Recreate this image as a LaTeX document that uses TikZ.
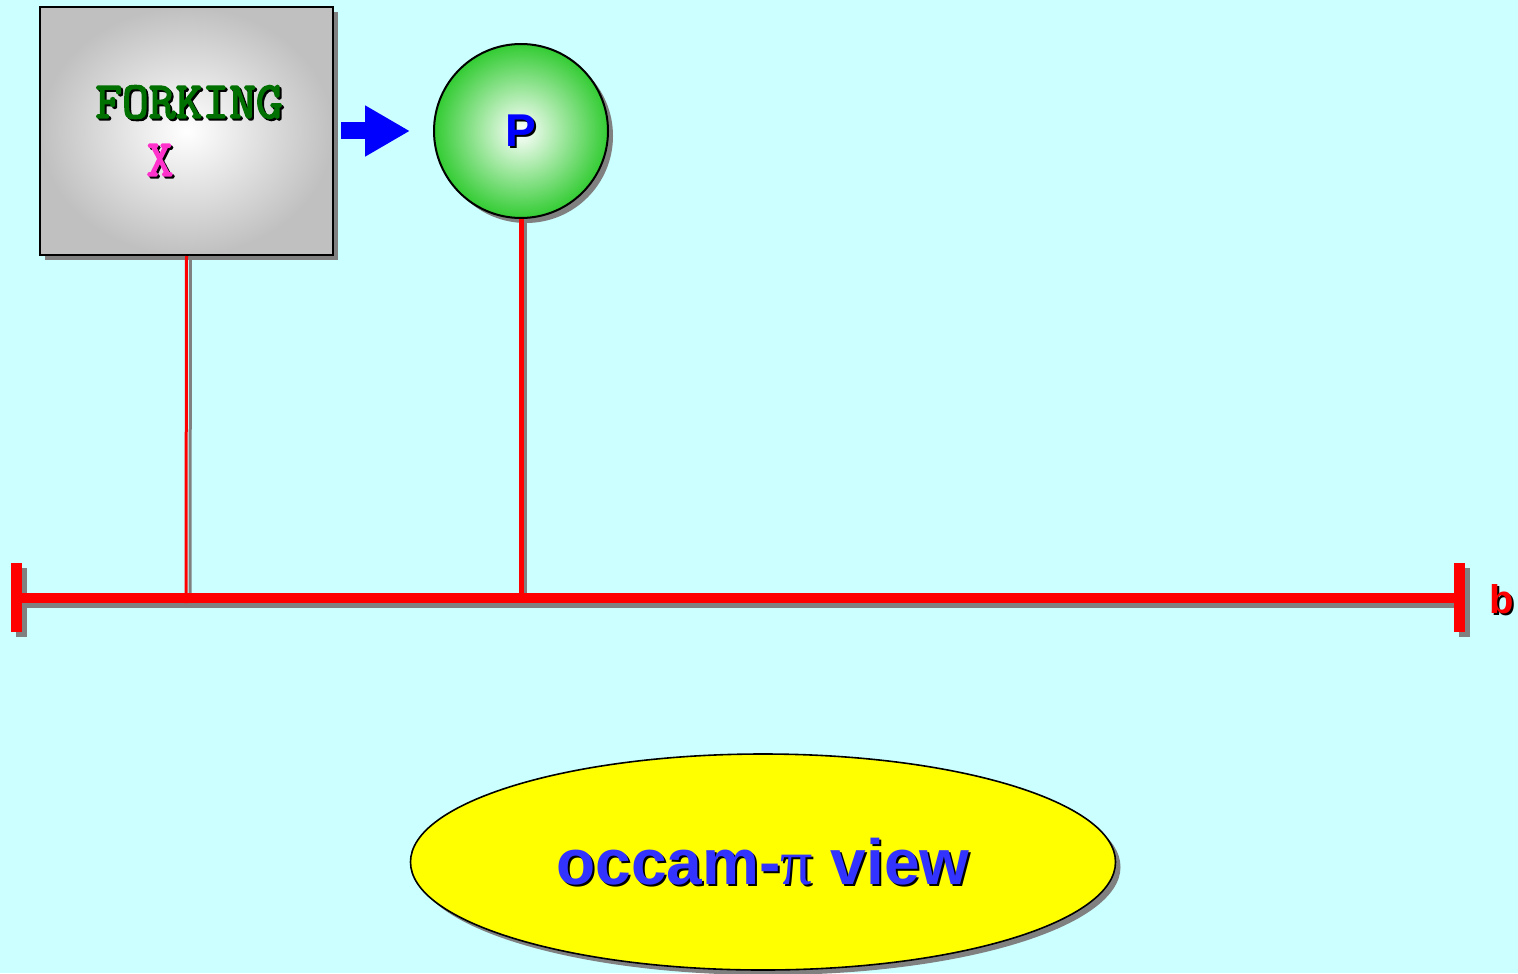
\documentclass[tikz,border=0pt]{standalone}
\usepackage{fontspec}
\setmainfont{Liberation Sans}
\newfontfamily\pifont{Liberation Serif}
\newfontfamily\courb{Latin Modern Mono}[FakeBold=3]
\usetikzlibrary{arrows.meta,shapes.geometric,shadows}
\definecolor{bgc}{RGB}{204,255,255}
\definecolor{shc}{RGB}{128,128,128}
\definecolor{boxg}{RGB}{192,192,192}
\definecolor{pgreen}{RGB}{51,204,51}
\definecolor{fgreen}{RGB}{0,112,0}
\definecolor{xpink}{RGB}{255,51,204}
\definecolor{tblue}{RGB}{51,51,255}
\definecolor{pblue}{RGB}{0,0,255}
\definecolor{bred}{RGB}{255,0,0}
\definecolor{vyellow}{RGB}{255,255,0}
\tikzset{
  boxshadow/.style={drop shadow={shadow xshift=2.5pt,shadow yshift=-2.5pt,fill=shc,opacity=1}},
  forkbox/.style={rectangle,draw=black,line width=1pt,minimum width=146.5pt,minimum height=124pt,
    inner color=white,outer color=boxg,boxshadow},
  procnode/.style={circle,draw=black,line width=1pt,minimum size=87pt,inner sep=0pt,
    inner color=white,outer color=pgreen,boxshadow},
  viewnode/.style={ellipse,draw=black,line width=0.8pt,minimum width=352.5pt,minimum height=108pt,
    fill=vyellow,boxshadow},
  lbl/.style={inner sep=0pt,anchor=center},
  lblshadow/.style={lbl,text=black,xshift=1pt,yshift=-1pt},
  redline/.style={draw=bred,line cap=butt},
  greyline/.style={draw=shc,line cap=butt},
  monolbl/.style={font=\courb\fontsize{26pt}{27pt}\selectfont},
}
\begin{document}
\begin{tikzpicture}[x=0.5pt,y=-0.5pt]
\useasboundingbox (0,0) rectangle (1518,973);
\fill[bgc] (0,0) rectangle (1518,973);

% nodes
\node[forkbox] (fork) at (186.5,131) {};
\node[procnode] (P) at (521,131) {};
\node[viewnode] (view) at (763,862) {};

% bus coordinates
\coordinate (busL) at (17,598);
\coordinate (busR) at (1460,598);
\coordinate (j1) at (186,598);
\coordinate (j2) at (521,598);
\coordinate (j1s) at (190,598);
\coordinate (j2s) at (525,598);

% vertical shadows
\draw[greyline,line width=1.5pt] ([xshift=2pt]fork.south) -- (j1s);
\draw[greyline,line width=2pt] ([xshift=2pt]P.south) -- (j2s);
% bus shadow
\draw[greyline,line width=5pt] ([shift={(3,5)}]busL) -- ([shift={(3,5)}]busR);
\fill[shc] (16,568) rectangle (27,637);
\fill[shc] (1459,568) rectangle (1470,637);
% bus
\draw[redline,line width=5pt] (busL) -- (busR);
\fill[bred] (11,563) rectangle (22,632);
\fill[bred] (1454,563) rectangle (1465,632);
% verticals
\draw[redline,line width=1.5pt] (fork.south) -- ([yshift=-2.5pt]j1);
\draw[redline,line width=2.5pt] (P.south) -- ([yshift=-2.5pt]j2);

% arrow
\draw[pblue,line width=8.5pt,-{Triangle[length=22.5pt,width=24pt]},shorten <=3.5pt,shorten >=11.5pt] (fork.east) -- (P.west);

% labels
\node[lblshadow,monolbl] (forkS) at (189,102) {FORKING};
\node[lbl,text=fgreen,monolbl] (forkT) at (189,102) {FORKING};
\node[lblshadow,monolbl] (xS) at (160,160) {X};
\node[lbl,text=xpink,monolbl] (xT) at (160,160) {X};
\node[lblshadow,font=\bfseries\fontsize{23pt}{24pt}\selectfont] (pS) at (P) {P};
\node[lbl,text=pblue,font=\bfseries\fontsize{23pt}{24pt}\selectfont] (pT) at (P) {P};
\node[lblshadow,font=\bfseries\fontsize{20pt}{22pt}\selectfont] (bS) at (1502,599) {b};
\node[lbl,text=bred,font=\bfseries\fontsize{20pt}{22pt}\selectfont] (bT) at (1502,599) {b};
\node[lblshadow,font=\bfseries\fontsize{32pt}{34pt}\selectfont] (vS) at (view) {occam-{\pifont\mdseries π} view};
\node[lbl,text=tblue,font=\bfseries\fontsize{32pt}{34pt}\selectfont] (vT) at (view) {occam-{\pifont\mdseries π} view};
\end{tikzpicture}
\end{document}
